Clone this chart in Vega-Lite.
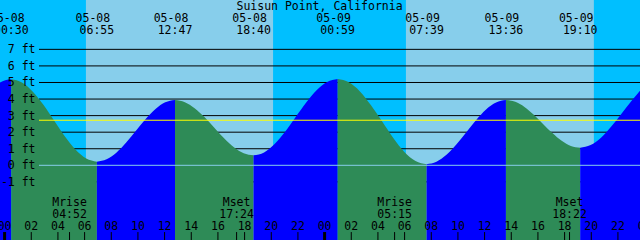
{
  "$schema": "https://vega.github.io/schema/vega-lite/v6.json",
  "width": 640,
  "height": 240,
  "autosize": {"type": "none"},
  "padding": 0,
  "background": "#00bfff",
  "config": {
    "view": {"stroke": null},
    "axis": {"disable": true},
    "text": {"font": "DejaVu Sans Mono", "fontSize": 11.5, "color": "#000000", "baseline": "alphabetic"}
  },
  "datasets": {
    "sun": [
      {"start": -1, "end": 6.10, "period": "night"},
      {"start": 6.10, "end": 20.15, "period": "day"},
      {"start": 20.15, "end": 30.10, "period": "night"},
      {"start": 30.10, "end": 44.20, "period": "day"},
      {"start": 44.20, "end": 49, "period": "night"}
    ],
    "levels": [
      {"ft": 7, "lab": "7 ft"},
      {"ft": 6, "lab": "6 ft"},
      {"ft": 5, "lab": "5 ft"},
      {"ft": 4, "lab": "4 ft"},
      {"ft": 3, "lab": "3 ft"},
      {"ft": 2, "lab": "2 ft"},
      {"ft": 1, "lab": "1 ft"},
      {"ft": 0, "lab": "0 ft"},
      {"ft": -1, "lab": "-1 ft"}
    ],
    "refs": [
      {"ft": 2.72, "kind": "mean"},
      {"ft": 0, "kind": "datum"}
    ],
    "tide": [
      {"seg": 0, "dir": "rising", "h": -0.4, "ft": 4.98},
      {"seg": 0, "dir": "rising", "h": 0.05, "ft": 5.14},
      {"seg": 0, "dir": "rising", "h": 0.5, "ft": 5.19},
      {"seg": 1, "dir": "falling", "h": 0.5, "ft": 5.19},
      {"seg": 1, "dir": "falling", "h": 1.3, "ft": 5.0},
      {"seg": 1, "dir": "falling", "h": 2.1, "ft": 4.46},
      {"seg": 1, "dir": "falling", "h": 2.91, "ft": 3.66},
      {"seg": 1, "dir": "falling", "h": 3.71, "ft": 2.71},
      {"seg": 1, "dir": "falling", "h": 4.51, "ft": 1.75},
      {"seg": 1, "dir": "falling", "h": 5.31, "ft": 0.95},
      {"seg": 1, "dir": "falling", "h": 6.12, "ft": 0.41},
      {"seg": 1, "dir": "falling", "h": 6.92, "ft": 0.22},
      {"seg": 2, "dir": "rising", "h": 6.92, "ft": 0.22},
      {"seg": 2, "dir": "rising", "h": 7.65, "ft": 0.36},
      {"seg": 2, "dir": "rising", "h": 8.38, "ft": 0.76},
      {"seg": 2, "dir": "rising", "h": 9.12, "ft": 1.37},
      {"seg": 2, "dir": "rising", "h": 9.85, "ft": 2.08},
      {"seg": 2, "dir": "rising", "h": 10.58, "ft": 2.79},
      {"seg": 2, "dir": "rising", "h": 11.32, "ft": 3.4},
      {"seg": 2, "dir": "rising", "h": 12.05, "ft": 3.8},
      {"seg": 2, "dir": "rising", "h": 12.78, "ft": 3.94},
      {"seg": 3, "dir": "falling", "h": 12.78, "ft": 3.94},
      {"seg": 3, "dir": "falling", "h": 13.52, "ft": 3.81},
      {"seg": 3, "dir": "falling", "h": 14.25, "ft": 3.45},
      {"seg": 3, "dir": "falling", "h": 14.99, "ft": 2.91},
      {"seg": 3, "dir": "falling", "h": 15.73, "ft": 2.27},
      {"seg": 3, "dir": "falling", "h": 16.46, "ft": 1.63},
      {"seg": 3, "dir": "falling", "h": 17.2, "ft": 1.09},
      {"seg": 3, "dir": "falling", "h": 17.93, "ft": 0.73},
      {"seg": 3, "dir": "falling", "h": 18.67, "ft": 0.6},
      {"seg": 4, "dir": "rising", "h": 18.67, "ft": 0.6},
      {"seg": 4, "dir": "rising", "h": 19.46, "ft": 0.78},
      {"seg": 4, "dir": "rising", "h": 20.25, "ft": 1.28},
      {"seg": 4, "dir": "rising", "h": 21.04, "ft": 2.02},
      {"seg": 4, "dir": "rising", "h": 21.83, "ft": 2.91},
      {"seg": 4, "dir": "rising", "h": 22.62, "ft": 3.79},
      {"seg": 4, "dir": "rising", "h": 23.4, "ft": 4.53},
      {"seg": 4, "dir": "rising", "h": 24.19, "ft": 5.03},
      {"seg": 4, "dir": "rising", "h": 24.98, "ft": 5.21},
      {"seg": 5, "dir": "falling", "h": 24.98, "ft": 5.21},
      {"seg": 5, "dir": "falling", "h": 25.82, "ft": 5.01},
      {"seg": 5, "dir": "falling", "h": 26.65, "ft": 4.46},
      {"seg": 5, "dir": "falling", "h": 27.48, "ft": 3.62},
      {"seg": 5, "dir": "falling", "h": 28.32, "ft": 2.64},
      {"seg": 5, "dir": "falling", "h": 29.15, "ft": 1.65},
      {"seg": 5, "dir": "falling", "h": 29.98, "ft": 0.81},
      {"seg": 5, "dir": "falling", "h": 30.82, "ft": 0.26},
      {"seg": 5, "dir": "falling", "h": 31.65, "ft": 0.06},
      {"seg": 6, "dir": "rising", "h": 31.65, "ft": 0.06},
      {"seg": 6, "dir": "rising", "h": 32.39, "ft": 0.21},
      {"seg": 6, "dir": "rising", "h": 33.14, "ft": 0.63},
      {"seg": 6, "dir": "rising", "h": 33.88, "ft": 1.26},
      {"seg": 6, "dir": "rising", "h": 34.63, "ft": 2.0},
      {"seg": 6, "dir": "rising", "h": 35.37, "ft": 2.74},
      {"seg": 6, "dir": "rising", "h": 36.11, "ft": 3.37},
      {"seg": 6, "dir": "rising", "h": 36.86, "ft": 3.79},
      {"seg": 6, "dir": "rising", "h": 37.6, "ft": 3.94},
      {"seg": 7, "dir": "falling", "h": 37.6, "ft": 3.94},
      {"seg": 7, "dir": "falling", "h": 38.3, "ft": 3.83},
      {"seg": 7, "dir": "falling", "h": 38.99, "ft": 3.52},
      {"seg": 7, "dir": "falling", "h": 39.69, "ft": 3.05},
      {"seg": 7, "dir": "falling", "h": 40.38, "ft": 2.5},
      {"seg": 7, "dir": "falling", "h": 41.08, "ft": 1.95},
      {"seg": 7, "dir": "falling", "h": 41.78, "ft": 1.48},
      {"seg": 7, "dir": "falling", "h": 42.47, "ft": 1.17},
      {"seg": 7, "dir": "falling", "h": 43.17, "ft": 1.06},
      {"seg": 8, "dir": "rising", "h": 43.17, "ft": 1.06},
      {"seg": 8, "dir": "rising", "h": 43.95, "ft": 1.22},
      {"seg": 8, "dir": "rising", "h": 44.73, "ft": 1.67},
      {"seg": 8, "dir": "rising", "h": 45.5, "ft": 2.34},
      {"seg": 8, "dir": "rising", "h": 46.28, "ft": 3.13},
      {"seg": 8, "dir": "rising", "h": 47.06, "ft": 3.92},
      {"seg": 8, "dir": "rising", "h": 47.7, "ft": 4.55}
    ],
    "events": [
      {"h": 0.5, "date": "05-08", "time": "00:30"},
      {"h": 6.92, "date": "05-08", "time": "06:55"},
      {"h": 12.78, "date": "05-08", "time": "12:47"},
      {"h": 18.67, "date": "05-08", "time": "18:40"},
      {"h": 24.98, "date": "05-09", "time": "00:59"},
      {"h": 31.65, "date": "05-09", "time": "07:39"},
      {"h": 37.6, "date": "05-09", "time": "13:36"},
      {"h": 43.17, "date": "05-09", "time": "19:10"}
    ],
    "moon": [
      {"h": 4.87, "ev": "Mrise", "time": "04:52"},
      {"h": 17.4, "ev": "Mset", "time": "17:24"},
      {"h": 29.25, "ev": "Mrise", "time": "05:15"},
      {"h": 42.37, "ev": "Mset", "time": "18:22"}
    ],
    "hours": [
      {"h": 0, "lab": "00"}, {"h": 2, "lab": "02"}, {"h": 4, "lab": "04"}, {"h": 6, "lab": "06"},
      {"h": 8, "lab": "08"}, {"h": 10, "lab": "10"}, {"h": 12, "lab": "12"}, {"h": 14, "lab": "14"},
      {"h": 16, "lab": "16"}, {"h": 18, "lab": "18"}, {"h": 20, "lab": "20"}, {"h": 22, "lab": "22"},
      {"h": 24, "lab": "00"}, {"h": 26, "lab": "02"}, {"h": 28, "lab": "04"}, {"h": 30, "lab": "06"},
      {"h": 32, "lab": "08"}, {"h": 34, "lab": "10"}, {"h": 36, "lab": "12"}, {"h": 38, "lab": "14"},
      {"h": 40, "lab": "16"}, {"h": 42, "lab": "18"}, {"h": 44, "lab": "20"}, {"h": 46, "lab": "22"},
      {"h": 48, "lab": "00"}
    ],
    "title": [{"name": "Suisun Point, California"}]
  },
  "resolve": {"scale": {"color": "independent"}},
  "layer": [
    {
      "data": {"name": "sun"},
      "mark": {"type": "rect", "clip": true},
      "encoding": {
        "x": {"field": "start", "type": "quantitative", "axis": null, "scale": {"domain": [-0.345, 47.655], "nice": false, "zero": false}},
        "x2": {"field": "end"},
        "color": {"field": "period", "type": "nominal", "legend": null, "scale": {"domain": ["night", "day"], "range": ["#00bfff", "#87ceeb"]}}
      }
    },
    {
      "data": {"name": "levels"},
      "transform": [{"filter": "datum.ft != 0"}],
      "mark": {"type": "rule", "color": "#000000", "strokeWidth": 1},
      "encoding": {
        "y": {"field": "ft", "type": "quantitative", "axis": null, "scale": {"domain": [-4.51, 9.98], "nice": false, "zero": false}},
        "x": {"datum": 2.58, "scale": {"domain": [-0.345, 47.655], "nice": false, "zero": false}},
        "x2": {"datum": 48}
      }
    },
    {
      "data": {"name": "tide"},
      "mark": {"type": "area", "interpolate": "monotone", "clip": true},
      "encoding": {
        "x": {"field": "h", "type": "quantitative", "axis": null, "scale": {"domain": [-0.345, 47.655], "nice": false, "zero": false}},
        "y": {"field": "ft", "type": "quantitative", "axis": null, "stack": null, "scale": {"domain": [-4.51, 9.98], "nice": false, "zero": false}},
        "y2": {"datum": -6},
        "detail": {"field": "seg", "type": "nominal"},
        "color": {"field": "dir", "type": "nominal", "legend": null, "scale": {"domain": ["rising", "falling"], "range": ["#0000ff", "#2e8b57"]}}
      }
    },
    {
      "data": {"name": "refs"},
      "mark": {"type": "rule", "strokeWidth": 1},
      "encoding": {
        "y": {"field": "ft", "type": "quantitative", "axis": null, "scale": {"domain": [-4.51, 9.98], "nice": false, "zero": false}},
        "x": {"datum": 2.58, "scale": {"domain": [-0.345, 47.655], "nice": false, "zero": false}},
        "x2": {"datum": 48},
        "color": {"field": "kind", "type": "nominal", "legend": null, "scale": {"domain": ["mean", "datum"], "range": ["#ffff00", "#87ceeb"]}}
      }
    },
    {
      "data": {"name": "levels"},
      "mark": {"type": "text", "align": "right", "dy": 4},
      "encoding": {
        "y": {"field": "ft", "type": "quantitative", "axis": null, "scale": {"domain": [-4.51, 9.98], "nice": false, "zero": false}},
        "x": {"datum": 2.32, "scale": {"domain": [-0.345, 47.655], "nice": false, "zero": false}},
        "text": {"field": "lab"}
      }
    },
    {
      "data": {"name": "events"},
      "mark": {"type": "text", "align": "center", "dx": -4},
      "encoding": {
        "x": {"field": "h", "type": "quantitative", "axis": null, "scale": {"domain": [-0.345, 47.655], "nice": false, "zero": false}},
        "y": {"datum": 8.65, "scale": {"domain": [-4.51, 9.98], "nice": false, "zero": false}},
        "text": {"field": "date"}
      }
    },
    {
      "data": {"name": "events"},
      "mark": {"type": "text", "align": "center"},
      "encoding": {
        "x": {"field": "h", "type": "quantitative", "axis": null, "scale": {"domain": [-0.345, 47.655], "nice": false, "zero": false}},
        "y": {"datum": 7.93, "scale": {"domain": [-4.51, 9.98], "nice": false, "zero": false}},
        "text": {"field": "time"}
      }
    },
    {
      "data": {"name": "moon"},
      "mark": {"type": "text", "align": "center"},
      "encoding": {
        "x": {"field": "h", "type": "quantitative", "axis": null, "scale": {"domain": [-0.345, 47.655], "nice": false, "zero": false}},
        "y": {"datum": -2.46, "scale": {"domain": [-4.51, 9.98], "nice": false, "zero": false}},
        "text": {"field": "ev"}
      }
    },
    {
      "data": {"name": "moon"},
      "mark": {"type": "text", "align": "center"},
      "encoding": {
        "x": {"field": "h", "type": "quantitative", "axis": null, "scale": {"domain": [-0.345, 47.655], "nice": false, "zero": false}},
        "y": {"datum": -3.2, "scale": {"domain": [-4.51, 9.98], "nice": false, "zero": false}},
        "text": {"field": "time"}
      }
    },
    {
      "data": {"name": "moon"},
      "mark": {"type": "rule", "color": "#000000", "strokeWidth": 1},
      "encoding": {
        "x": {"field": "h", "type": "quantitative", "axis": null, "scale": {"domain": [-0.345, 47.655], "nice": false, "zero": false}},
        "y": {"datum": -4.03, "scale": {"domain": [-4.51, 9.98], "nice": false, "zero": false}},
        "y2": {"datum": -4.7}
      }
    },
    {
      "data": {"name": "hours"},
      "mark": {"type": "rule", "color": "#000000"},
      "encoding": {
        "x": {"field": "h", "type": "quantitative", "axis": null, "scale": {"domain": [-0.345, 47.655], "nice": false, "zero": false}},
        "y": {"datum": -4.03, "scale": {"domain": [-4.51, 9.98], "nice": false, "zero": false}},
        "y2": {"datum": -4.7},
        "strokeWidth": {"condition": {"test": "datum.h % 24 === 0", "value": 3}, "value": 1}
      }
    },
    {
      "data": {"name": "hours"},
      "mark": {"type": "text", "align": "center"},
      "encoding": {
        "x": {"field": "h", "type": "quantitative", "axis": null, "scale": {"domain": [-0.345, 47.655], "nice": false, "zero": false}},
        "y": {"datum": -3.91, "scale": {"domain": [-4.51, 9.98], "nice": false, "zero": false}},
        "text": {"field": "lab"}
      }
    },
    {
      "data": {"name": "title"},
      "mark": {"type": "text", "align": "center"},
      "encoding": {
        "x": {"datum": 23.62, "scale": {"domain": [-0.345, 47.655], "nice": false, "zero": false}},
        "y": {"datum": 9.38, "scale": {"domain": [-4.51, 9.98], "nice": false, "zero": false}},
        "text": {"field": "name"}
      }
    }
  ]
}
